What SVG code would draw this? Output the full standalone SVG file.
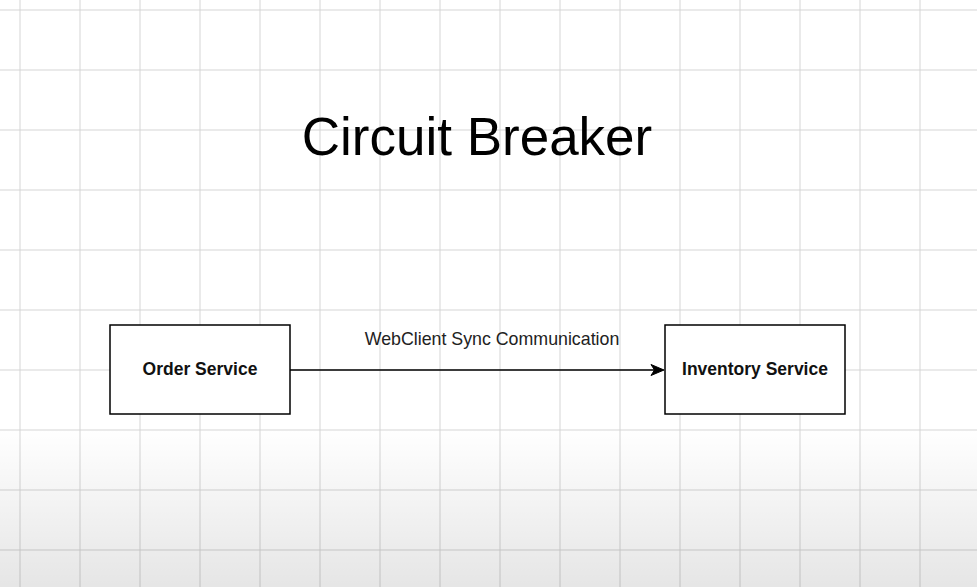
<svg xmlns="http://www.w3.org/2000/svg" width="977" height="587" viewBox="0 0 977 587">
  <defs>
    <pattern id="grid" x="19.5" y="9.5" width="60" height="60" patternUnits="userSpaceOnUse">
      <path d="M0 0.5 H60 M0.5 0 V60" fill="none" stroke="#d4d4d4" stroke-width="1"/>
    </pattern>
    <linearGradient id="shade" x1="0" y1="0" x2="0" y2="1">
      <stop offset="0" stop-color="#000" stop-opacity="0"/>
      <stop offset="1" stop-color="#000" stop-opacity="0.1"/>
    </linearGradient>
    <style>
      .box { fill: #fff; stroke: #000; stroke-width: 1.5; }
      .node-label { font-family: "Liberation Sans", Arial, sans-serif; font-weight: bold; font-size: 17.5px; fill: #111; text-anchor: middle; }
      .edge-label { font-family: "Liberation Sans", Arial, sans-serif; font-size: 17.8px; fill: #222; text-anchor: middle; }
      .title { font-family: "Liberation Sans", Arial, sans-serif; font-size: 53px; fill: #000; text-anchor: middle; }
      .edge { fill: none; stroke: #000; stroke-width: 1.3; }
      .arrowhead { fill: #000; stroke: #000; stroke-width: 1; stroke-linejoin: miter; }
    </style>
  </defs>
  <rect x="0" y="0" width="977" height="587" fill="#fff"/>
  <rect x="0" y="0" width="977" height="587" fill="url(#grid)"/>
  <rect x="0" y="428" width="977" height="159" fill="url(#shade)"/>

  <text class="title" x="477" y="155">Circuit Breaker</text>

  <g id="connectors">
    <path class="edge" d="M290 370 H655"/>
    <path class="arrowhead" d="M651 364.5 L664 370 L651 375.5 L654.5 370 Z"/>
    <text class="edge-label" x="492" y="345">WebClient Sync Communication</text>
  </g>

  <g id="order-service">
    <rect class="box" x="110" y="325" width="180" height="89"/>
    <text class="node-label" x="200" y="374.5">Order Service</text>
  </g>

  <g id="inventory-service">
    <rect class="box" x="665" y="325" width="180" height="89"/>
    <text class="node-label" x="755" y="374.5">Inventory Service</text>
  </g>
</svg>
